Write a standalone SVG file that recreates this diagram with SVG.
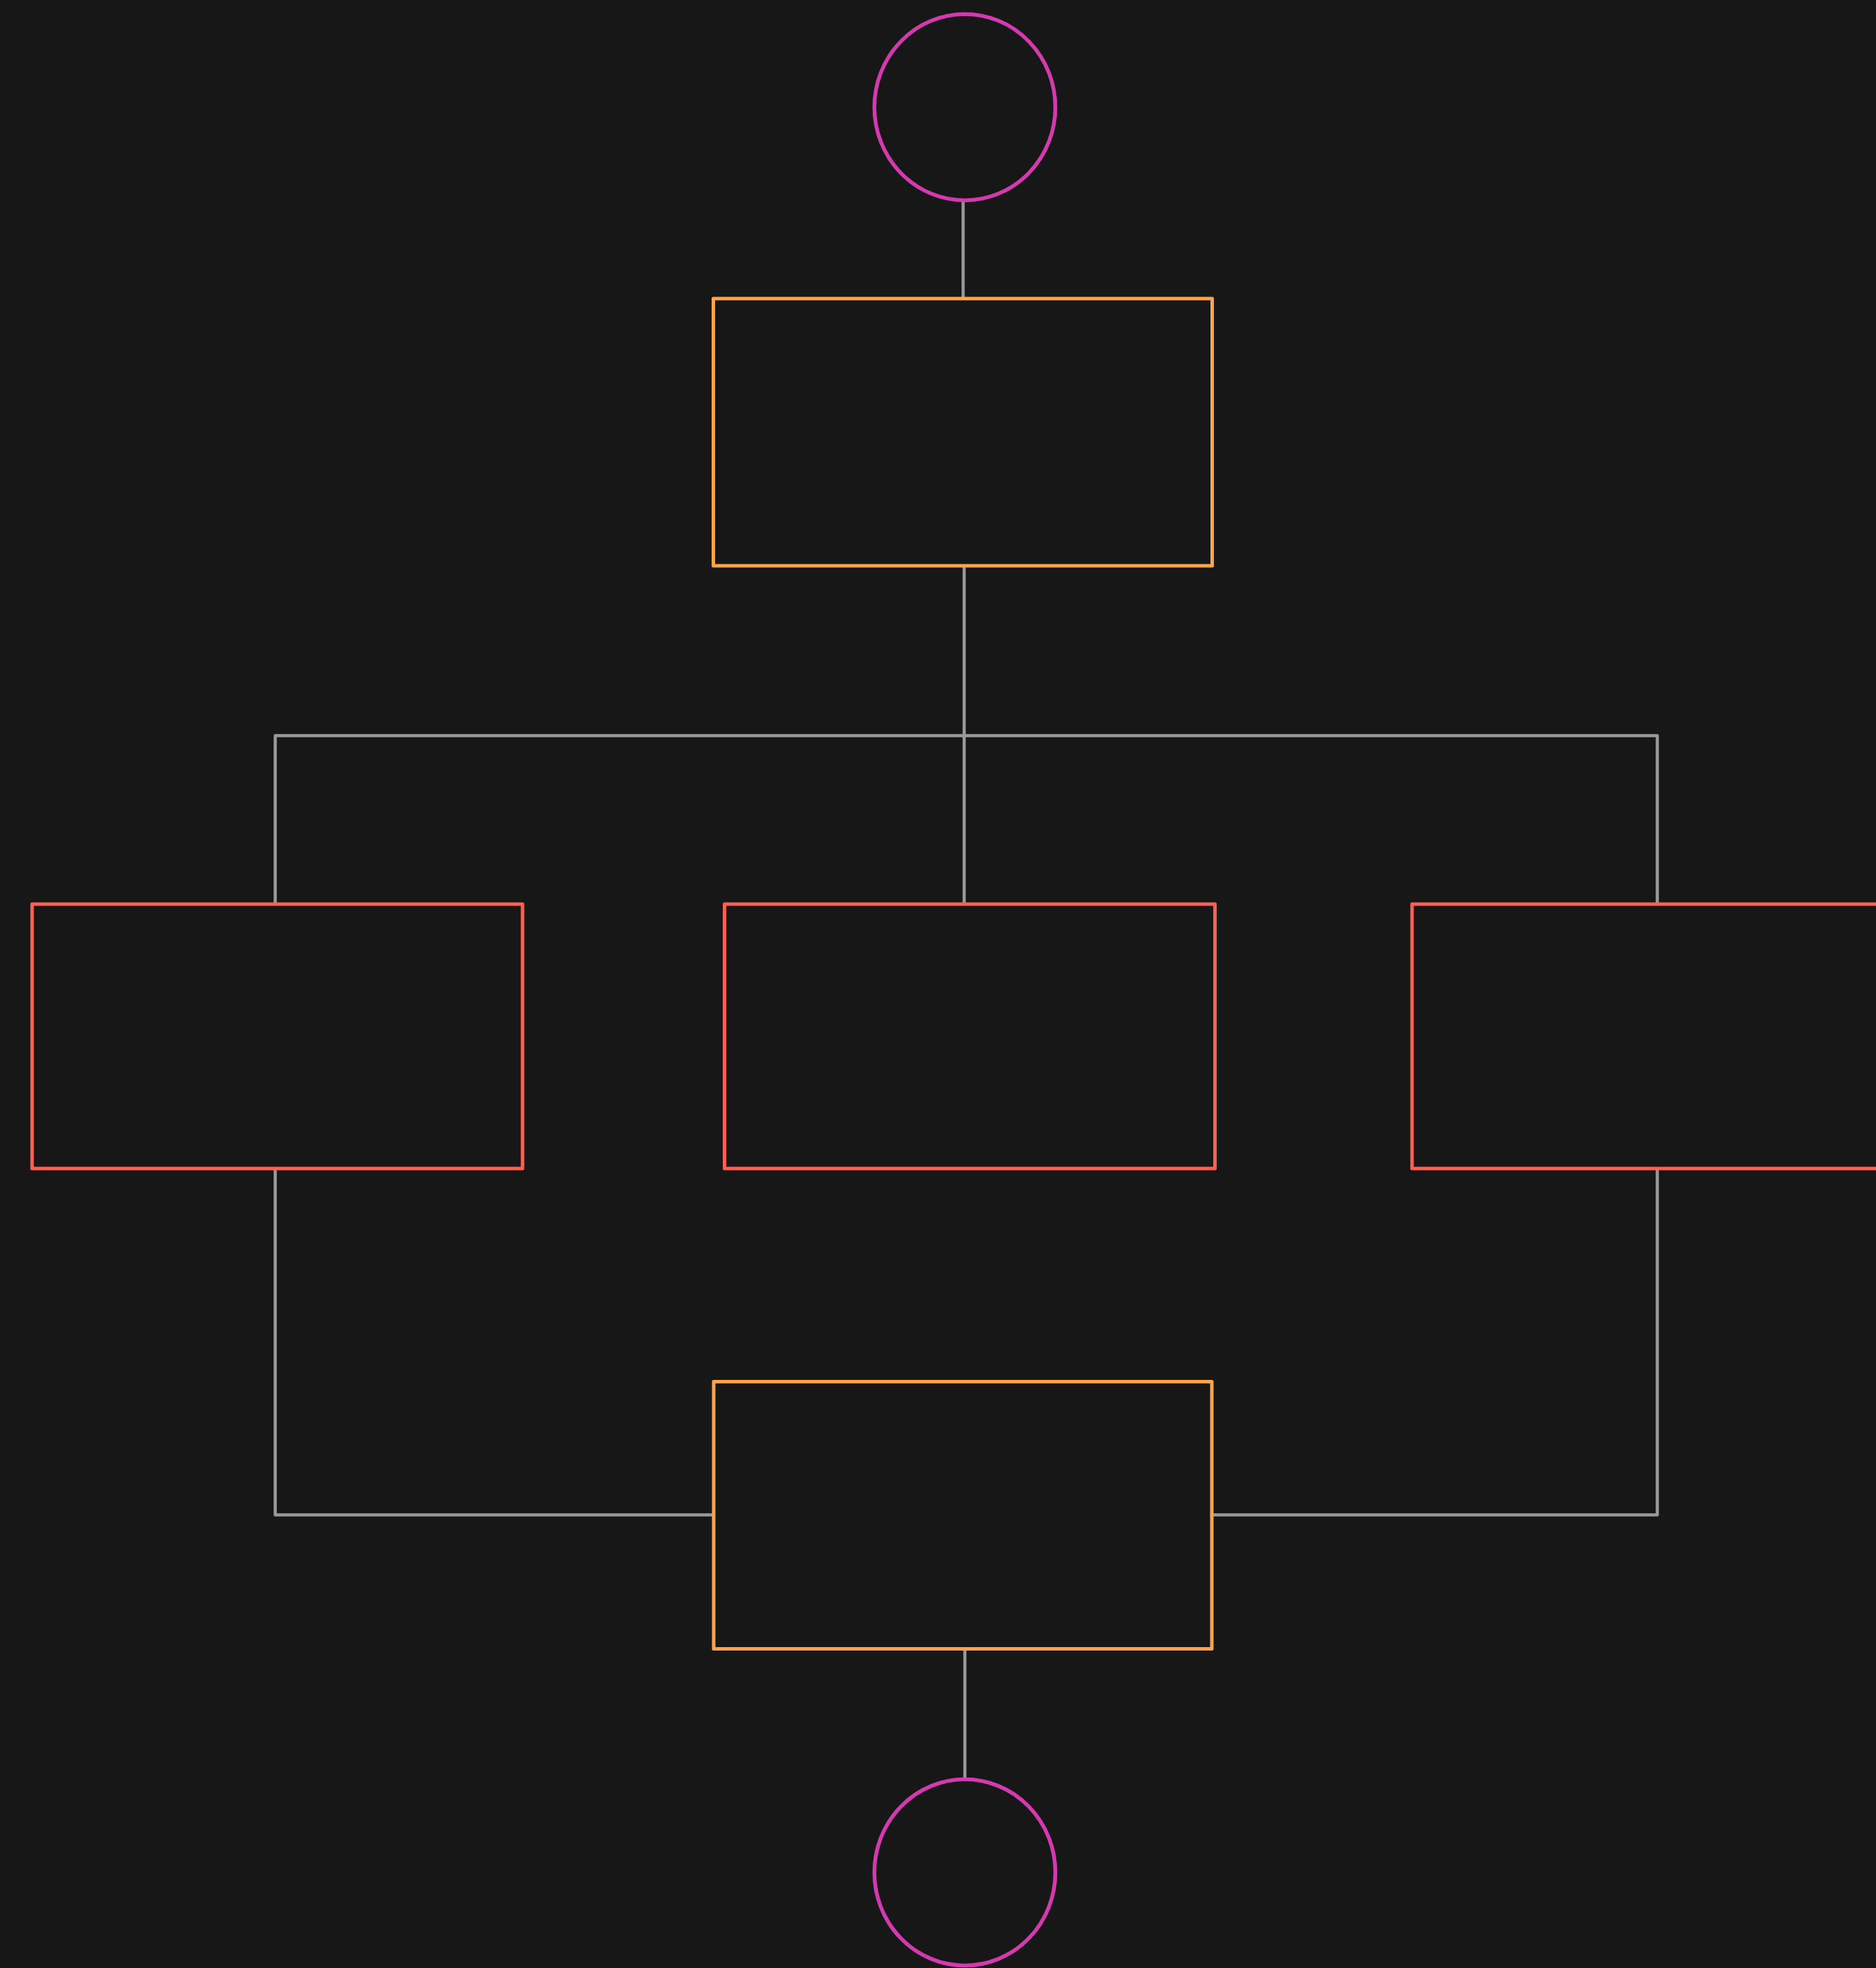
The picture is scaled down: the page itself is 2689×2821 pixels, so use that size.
<svg xmlns="http://www.w3.org/2000/svg" width="2689" height="2821" viewBox="0 0 2689 2821">
<style>
.bg{fill:#171717}
.edge{fill:none;stroke:#999999;stroke-width:4.5;stroke-linejoin:round}
.term{fill:#171717;stroke:#d23aad;stroke-width:5.5}
.proc{fill:#171717;stroke:#ffa24c;stroke-width:5;stroke-linejoin:round}
.task{fill:#171717;stroke:#fb6152;stroke-width:5;stroke-linejoin:round}
</style>
<rect class="bg" x="0" y="0" width="2689" height="2821"/>
<g id="connectors">
<path class="edge" d="M1380.5 287 V428"/>
<path class="edge" d="M1382 811 V1054.5"/>
<path class="edge" d="M394.5 1295 V1054.5 H2375.5 V1295"/>
<path class="edge" d="M1382 1054.5 V1295"/>
<path class="edge" d="M394.5 1675 V2171.5 H1023"/>
<path class="edge" d="M2375.5 1675 V2171.5 H1737"/>
<path class="edge" d="M1383 2363 V2551"/>
</g>
<g id="start"><ellipse class="term" cx="1383" cy="153.7" rx="129.7" ry="133.5"/></g>
<g id="split"><rect class="proc" x="1022.5" y="428" width="715" height="383"/></g>
<g id="taskA"><rect class="task" x="46" y="1296" width="703" height="379"/></g>
<g id="taskB"><rect class="task" x="1038.5" y="1296" width="703" height="379"/></g>
<g id="taskC"><rect class="task" x="2024" y="1296" width="703" height="379"/></g>
<g id="join"><rect class="proc" x="1023" y="1980.5" width="714" height="383"/></g>
<g id="end"><ellipse class="term" cx="1383" cy="2684" rx="129.7" ry="133.5"/></g>
</svg>
